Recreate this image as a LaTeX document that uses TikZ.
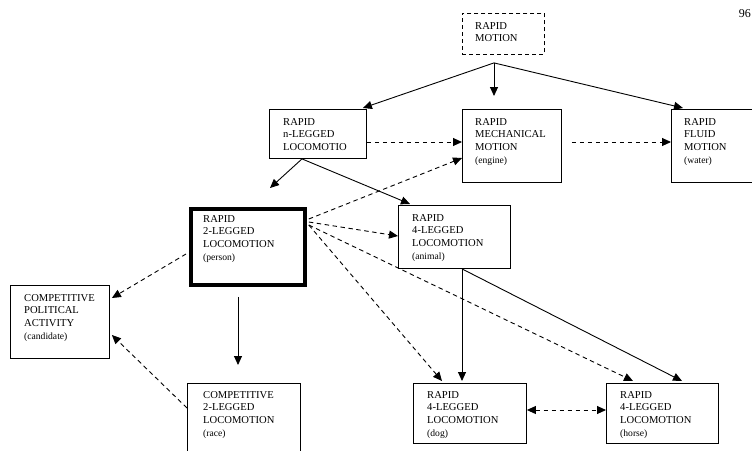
\documentclass[tikz,border=0pt]{standalone}
\usepackage{fontspec}
\setmainfont{Liberation Serif}
\usetikzlibrary{arrows.meta,calc}

\newcommand{\lblfont}{\fontsize{10.6}{12.6}\selectfont}
\newcommand{\paren}[1]{{\fontsize{9.6}{12.6}\selectfont #1}}

\tikzset{
  box/.style={draw, line width=0.9pt, inner sep=0pt, anchor=north west},
  lbl/.style={anchor=north west, inner sep=0pt, align=left, font=\lblfont},
  arr/.style={-{Triangle[length=9pt,width=8pt]}, line width=0.9pt},
  dsh/.style={arr, dash pattern=on 4.5pt off 3.5pt},
  dshboth/.style={{Triangle[length=9pt,width=8pt]}-{Triangle[length=9pt,width=8pt]}, line width=0.9pt, dash pattern=on 4.5pt off 3.5pt},
}

\begin{document}
\begin{tikzpicture}[x=1pt,y=-1pt]
\useasboundingbox (0,0) rectangle (752,450);
\clip (0,0) rectangle (752,450);

% page number
\node[anchor=north east, inner sep=0pt, font=\fontsize{12}{14}\selectfont] (pg) at (751,9) {96};

% boxes
\node[box, dash pattern=on 4pt off 3pt, minimum width=82pt, minimum height=41pt] (rm) at (462,13) {};
\node[box, minimum width=97pt, minimum height=49pt] (nl) at (269,109) {};
\node[box, minimum width=99pt, minimum height=73pt] (mech) at (462,109) {};
\node[box, minimum width=99pt, minimum height=73pt] (fluid) at (671,109) {};
\node[box, line width=3.8pt, minimum width=114pt, minimum height=76pt] (b2) at (189,207) {};
\node[box, minimum width=112pt, minimum height=63pt] (animal) at (398,205) {};
\node[box, minimum width=99pt, minimum height=73pt] (pol) at (10,285) {};
\node[box, minimum width=113pt, minimum height=90pt] (race) at (187,383) {};
\node[box, minimum width=113pt, minimum height=60pt] (dog) at (413,383) {};
\node[box, minimum width=112pt, minimum height=60pt] (horse) at (606,383) {};

% labels
\node[lbl] (rmt) at ($(rm.north west)+(13,9)$) {RAPID\\MOTION};
\node[lbl] (nlt) at ($(nl.north west)+(14,9)$) {RAPID\\n-LEGGED\\LOCOMOTIO};
\node[lbl] (mecht) at ($(mech.north west)+(13,9)$) {RAPID\\MECHANICAL\\MOTION\\\paren{(engine)}};
\node[lbl] (fluidt) at ($(fluid.north west)+(13,9)$) {RAPID\\FLUID\\MOTION\\\paren{(water)}};
\node[lbl] (b2t) at ($(b2.north west)+(14,8)$) {RAPID\\2-LEGGED\\LOCOMOTION\\\paren{(person)}};
\node[lbl] (animalt) at ($(animal.north west)+(14,9)$) {RAPID\\4-LEGGED\\LOCOMOTION\\\paren{(animal)}};
\node[lbl] (polt) at ($(pol.north west)+(14,9)$) {COMPETITIVE\\POLITICAL\\ACTIVITY\\\paren{(candidate)}};
\node[lbl] (racet) at ($(race.north west)+(16,8)$) {COMPETITIVE\\2-LEGGED\\LOCOMOTION\\\paren{(race)}};
\node[lbl] (dogt) at ($(dog.north west)+(14,8)$) {RAPID\\4-LEGGED\\LOCOMOTION\\\paren{(dog)}};
\node[lbl] (horset) at ($(horse.north west)+(14,8)$) {RAPID\\4-LEGGED\\LOCOMOTION\\\paren{(horse)}};

% branching point under RAPID MOTION
\coordinate (j) at ($(rm.south west)+(32,8)$);
\draw[arr] (j) -- ($(nl.north east)+(-4,-1)$);
\draw[arr] (j) -- ($(mech.north west)+(32,-13)$);
\draw[arr] (j) -- ($(fluid.north west)+(12,-1)$);

% top row
\draw[dsh] ($(nl.north east)+(0,33)$) -- ($(mech.north west)+(0,33)$);
\draw[dsh] ($(mech.north east)+(10,33)$) -- ($(fluid.north west)+(0,33)$);

% from n-legged
\coordinate (nlb) at ($(nl.south west)+(33,0)$);
\draw[arr] (nlb) -- ($(b2.north west)+(81,-19)$);
\draw[arr] (nlb) -- ($(animal.north west)+(12,-1)$);

% from 2-legged
\draw[dsh] ($(b2.north east)+(2,12)$) -- ($(mech.north west)+(0,49)$);
\draw[dsh] ($(b2.north east)+(2,15)$) -- ($(animal.north west)+(0,31)$);
\draw[dsh] ($(b2.north east)+(2,18)$) -- ($(dog.north west)+(29,-2)$);
\draw[dsh] ($(b2.north east)+(2,18)$) -- ($(horse.north west)+(27,-2)$);
\draw[dsh] ($(b2.north west)+(-3,47)$) -- ($(pol.north east)+(2,13)$);
\draw[arr] ($(b2.south west)+(49,10)$) -- ($(race.north west)+(51,-18)$);
\draw[dsh] ($(race.north west)+(0,25)$) -- ($(pol.north east)+(2,50)$);

% from 4-legged (animal)
\coordinate (anb) at ($(animal.south west)+(64,0)$);
\draw[arr] (anb) -- ($(dog.north west)+(49,-2)$);
\draw[arr] (anb) -- ($(horse.north west)+(76,-2)$);

% dog <-> horse
\draw[dshboth] ($(dog.north east)+(0,27)$) -- ($(horse.north west)+(0,27)$);
\end{tikzpicture}
\end{document}
